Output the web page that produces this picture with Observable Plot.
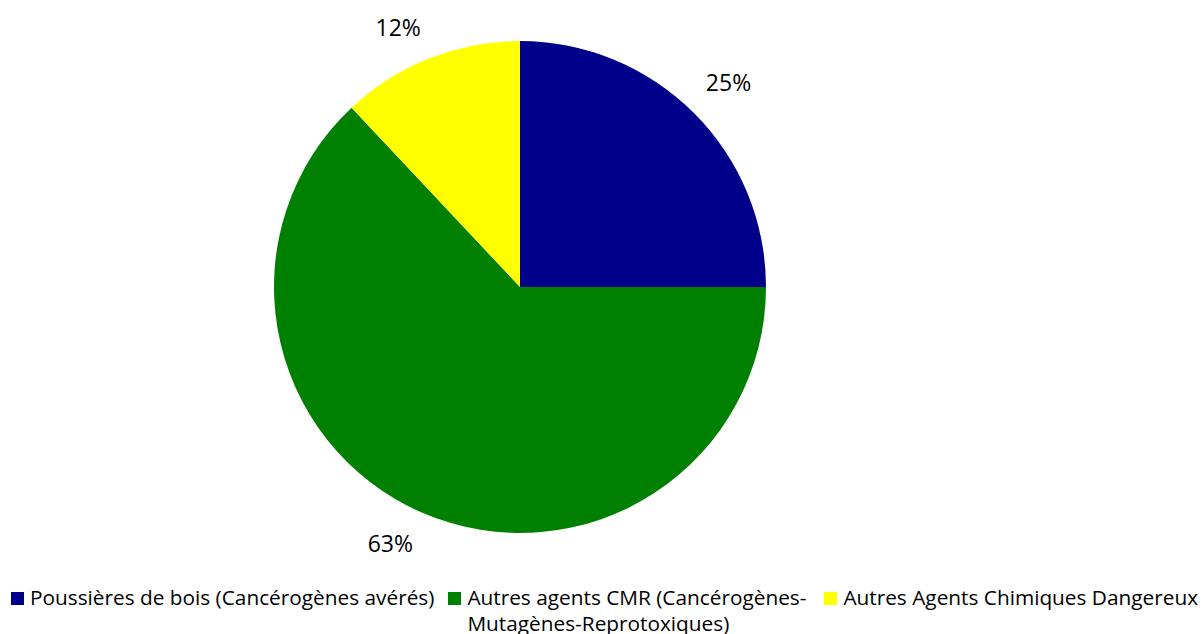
<!DOCTYPE html>
<html><head><meta charset="utf-8">
<script src="https://cdn.jsdelivr.net/npm/d3@7"></script>
<script src="https://cdn.jsdelivr.net/npm/@observablehq/plot@0.6"></script>
<style>
html,body{margin:0;padding:0;background:#fff;}
#chart{width:1204px;height:634px;position:relative;overflow:hidden;font-family:"Open Sans",sans-serif;}
#chart svg{position:absolute;left:0;top:0;}
.legend{position:absolute;top:584px;left:11px;display:flex;gap:14px;align-items:flex-start;font-size:20.8px;line-height:26px;color:#000;white-space:nowrap;}
.item{display:flex;align-items:flex-start;}
.sw{width:13px;height:13px;margin-top:8px;margin-right:6px;flex:none;}
.item.wrap .txt{white-space:normal;width:343px;}
</style></head><body><div id="chart"></div>
<script>
const categories = ["Poussières de bois (Cancérogènes avérés)", "Autres agents CMR (Cancérogènes-Mutagènes-Reprotoxiques)", "Autres Agents Chimiques Dangereux"];
const values = [25, 63, 12];
const labels = ["25%", "63%", "12%"];
const colors = ["#00008B", "#008000", "#FFFF00"];

const data = categories.map((c, i) => ({category: c, value: values[i], label: labels[i], color: colors[i]}));
const slices = d3.pie().sort(null).value(d => d.value)(data);
const labelR = 1.1;
const labelData = slices.map(s => {
  const mid = (s.startAngle + s.endAngle) / 2;
  return {label: s.data.label, x: labelR * Math.sin(mid), y: labelR * Math.cos(mid)};
});

const pieMark = (index, scales) => {
  const {x, y} = scales;
  const cx = x(0), cy = y(0), r = x(1) - x(0);
  const arc = d3.arc().innerRadius(0).outerRadius(r);
  const g = d3.create("svg:g").attr("transform", `translate(${cx},${cy})`);
  g.selectAll("path").data(slices).join("path")
    .attr("d", arc)
    .attr("fill", d => d.data.color);
  return g.node();
};

const quadrants = [
  {right: true, up: true}, {right: true, up: false},
  {right: false, up: true}, {right: false, up: false}
];

const plot = Plot.plot({
  width: 1204,
  height: 580,
  x: {domain: [-1, 1], range: [520 - 246, 520 + 246], axis: null},
  y: {domain: [-1, 1], range: [287 + 246, 287 - 246], axis: null},
  style: {fontFamily: "Open Sans, sans-serif", background: "transparent"},
  marks: [
    pieMark,
    ...quadrants.map(q => Plot.text(labelData, {
      filter: d => (d.x >= 0) === q.right && (d.y >= 0) === q.up,
      x: "x", y: "y", text: "label",
      textAnchor: q.right ? "start" : "end",
      lineAnchor: q.up ? "bottom" : "top",
      dx: q.right ? -6 : 0,
      dy: q.right && q.up ? -5 : 0,
      fontSize: 23, fill: "#000"
    }))
  ]
});

const chart = document.getElementById("chart");
chart.appendChild(plot);

const legend = document.createElement("div");
legend.className = "legend";
data.forEach((d, i) => {
  const item = document.createElement("div");
  item.className = "item" + (i === 1 ? " wrap" : "");
  const sw = document.createElement("span");
  sw.className = "sw";
  sw.style.background = d.color;
  const t = document.createElement("span");
  t.className = "txt";
  t.textContent = d.category;
  item.appendChild(sw);
  item.appendChild(t);
  legend.appendChild(item);
});
chart.appendChild(legend);
</script>
</body></html>
